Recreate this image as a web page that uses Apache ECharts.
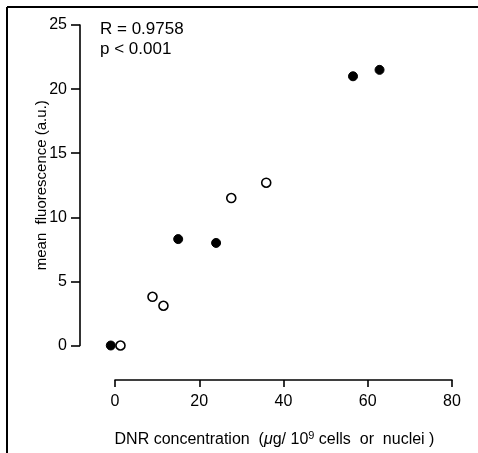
<!DOCTYPE html>
<html>
<head>
<meta charset="utf-8">
<script src="https://cdn.jsdelivr.net/npm/echarts@6/dist/echarts.min.js"></script>
<style>
html,body{margin:0;padding:0;background:#fff;}
#chart{width:478px;height:453px;}
</style>
</head>
<body>
<div id="chart"></div>
<script>
// Data
var filledX = [-1, 15.0, 24.0, 56.5, 62.8];
var filledY = [0, 8.3, 8.0, 21.0, 21.5];
var openX = [1.3, 8.9, 11.5, 27.6, 35.9];
var openY = [0, 3.8, 3.1, 11.5, 12.7];
var xTicks = [0, 20, 40, 60, 80];
var yTicks = [0, 5, 10, 15, 20, 25];
var statLines = ['R = 0.9758', 'p < 0.001'];

function pairs(xs, ys) { return xs.map(function (x, i) { return [x, ys[i]]; }); }

var chart = echarts.init(document.getElementById('chart'), null, {renderer: 'canvas'});
var font = 'Liberation Sans, Arial, Helvetica, sans-serif';
chart.setOption({
  animation: false,
  backgroundColor: '#fff',
  grid: {left: 115, right: 26, top: 25, bottom: 107.5},
  xAxis: {
    type: 'value', min: xTicks[0], max: xTicks[xTicks.length - 1], interval: 20,
    offset: 34.5,
    axisLine: {show: true, onZero: false, lineStyle: {color: '#000', width: 1.6}},
    axisTick: {show: true, length: 7, lineStyle: {color: '#000', width: 1.6}},
    axisLabel: {color: '#000', fontSize: 16, fontFamily: font, margin: 14},
    splitLine: {show: false},
    name: 'DNR concentration  ({mu|μ}g/ 10{sup|9} cells  or  nuclei )',
    nameLocation: 'middle', nameGap: 50,
    nameTextStyle: {
      color: '#000', fontSize: 16, fontFamily: font, padding: [0, 18, 0, 0],
      rich: {
        mu: {fontStyle: 'italic', fontSize: 16, fontFamily: font, color: '#000'},
        sup: {fontSize: 11, fontFamily: font, color: '#000', verticalAlign: 'top', padding: [0, 0, 8, 0]}
      }
    }
  },
  yAxis: {
    type: 'value', min: yTicks[0], max: yTicks[yTicks.length - 1], interval: 5,
    offset: 35,
    axisLine: {show: true, onZero: false, lineStyle: {color: '#000', width: 1.6}},
    axisTick: {show: true, length: 9, lineStyle: {color: '#000', width: 1.6}},
    axisLabel: {color: '#000', fontSize: 16, fontFamily: font, margin: 13},
    splitLine: {show: false},
    name: 'mean  fluorescence (a.u.)',
    nameLocation: 'middle', nameGap: 31, nameMoveOverlap: false,
    nameTextStyle: {color: '#000', fontSize: 15, fontFamily: font}
  },
  graphic: [
    {type: 'line', shape: {x1: 7, y1: 7, x2: 478, y2: 7}, style: {stroke: '#000', lineWidth: 2}},
    {type: 'line', shape: {x1: 7, y1: 7, x2: 7, y2: 453}, style: {stroke: '#000', lineWidth: 2}},
    {type: 'text', left: 100, top: 21, style: {text: statLines[0], fill: '#000', font: '17px ' + font}},
    {type: 'text', left: 100, top: 41, style: {text: statLines[1], fill: '#000', font: '17px ' + font}}
  ],
  series: [
    {
      type: 'scatter', clip: false, symbol: 'circle', symbolSize: 9,
      data: pairs(filledX, filledY),
      itemStyle: {color: '#000', borderColor: '#000', borderWidth: 1, opacity: 1}
    },
    {
      type: 'scatter', clip: false, symbol: 'circle', symbolSize: 9,
      data: pairs(openX, openY),
      itemStyle: {color: '#fff', borderColor: '#000', borderWidth: 1.6, opacity: 1}
    }
  ]
});
</script>
</body>
</html>
